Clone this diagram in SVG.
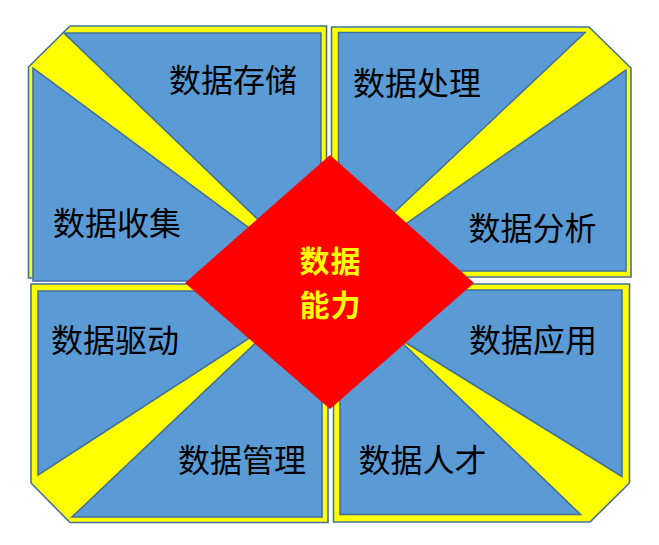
<svg xmlns="http://www.w3.org/2000/svg" width="659" height="545" viewBox="0 0 659 545">
<style>
.frame{fill:#FFFF00;stroke:#41719C;stroke-width:1.6}
.tri{fill:#5B9BD5;stroke:#41719C;stroke-width:1.6}
.lbl{font-family:"Noto Sans CJK SC","Noto Sans CJK JP",sans-serif;font-size:32px;fill:#000;text-anchor:middle}
.core{font-family:"Noto Sans CJK SC","Noto Sans CJK JP",sans-serif;font-size:30px;font-weight:bold;fill:#FFFF00;text-anchor:middle;letter-spacing:1px}
</style>
<rect width="659" height="545" fill="#FFFFFF"/>
<g id="quadrant-top-left">
<polygon class="frame" points="70,26 326.5,26 326.5,278 28.5,278 28.5,67"/>
<g id="node-storage">
<polygon class="tri" points="64,33 321,33 321,280"/>
<text class="lbl" x="233" y="92">数据存储</text>
</g>
<g id="node-collection">
<polygon class="tri" points="33,68 33,281 321,281"/>
<text class="lbl" x="117" y="235">数据收集</text>
</g>
</g>
<g id="quadrant-top-right">
<polygon class="frame" points="331.5,27 589,27 631,68 631,277 331.5,277"/>
<g id="node-processing">
<polygon class="tri" points="338.5,32.5 585,32.5 338.5,265"/>
<text class="lbl" x="417" y="95">数据处理</text>
</g>
<g id="node-analysis">
<polygon class="tri" points="626,70 626,271 338.5,271"/>
<text class="lbl" x="532.5" y="240">数据分析</text>
</g>
</g>
<g id="quadrant-bottom-left">
<polygon class="frame" points="31,284 328,284 328,522.5 70,522.5 31,483"/>
<g id="node-driven">
<polygon class="tri" points="38,291 322,291 38,475"/>
<text class="lbl" x="115" y="352">数据驱动</text>
</g>
<g id="node-management">
<polygon class="tri" points="72,517 322,517 322,280"/>
<text class="lbl" x="242" y="472">数据管理</text>
</g>
</g>
<g id="quadrant-bottom-right">
<polygon class="frame" points="333.5,284 629.5,284 629.5,483 590,522 333.5,522"/>
<g id="node-application">
<polygon class="tri" points="340,290 622,290 622,476.5 340,302"/>
<text class="lbl" x="533" y="352">数据应用</text>
</g>
<g id="node-talent">
<polygon class="tri" points="340,283 340,514.5 580.5,514.5"/>
<text class="lbl" x="422.5" y="472">数据人才</text>
</g>
</g>
<g id="connectors"/>
<g id="node-core">
<polygon points="330,155 474,283 330,409 185,283" fill="#FF0000"/>
<text class="core" x="330.5" y="272">数据</text>
<text class="core" x="330.5" y="316">能力</text>
</g>
</svg>
